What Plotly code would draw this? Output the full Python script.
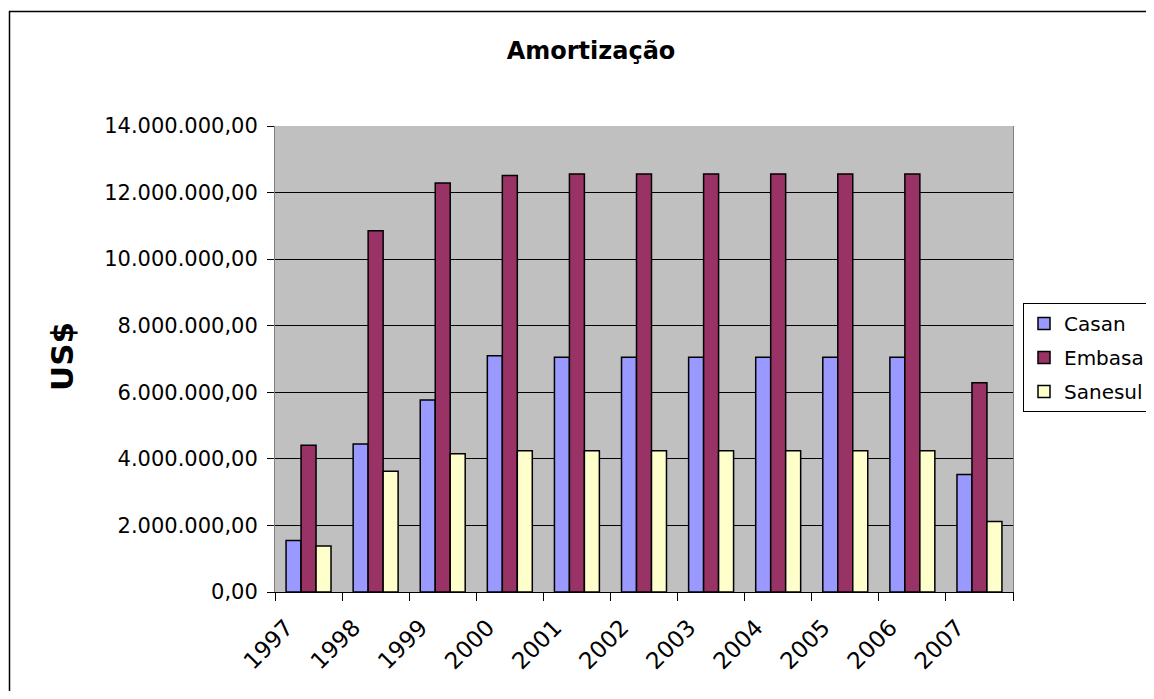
import plotly.graph_objects as go

years = ["1997", "1998", "1999", "2000", "2001", "2002", "2003", "2004", "2005", "2006", "2007"]
casan = [1.55e6, 4.45e6, 5.77e6, 7.10e6, 7.05e6, 7.05e6, 7.05e6, 7.05e6, 7.05e6, 7.05e6, 3.53e6]
embasa = [4.41e6, 10.85e6, 12.29e6, 12.51e6, 12.56e6, 12.56e6, 12.56e6, 12.56e6, 12.56e6, 12.56e6, 6.29e6]
sanesul = [1.38e6, 3.63e6, 4.15e6, 4.24e6, 4.24e6, 4.24e6, 4.24e6, 4.24e6, 4.24e6, 4.24e6, 2.12e6]

series = [("Casan", casan, "#9999FF"), ("Embasa", embasa, "#993366"), ("Sanesul", sanesul, "#FFFFCC")]

FONT = "DejaVu Sans, Arial, sans-serif"

# page body has an 8px margin; work in window pixels and convert
OFF = 8
W, H = 1154 - 2 * OFF, 699 - 2 * OFF
PL, PR, PT, PB = 275, 1013, 126, 592  # plot area in window px
L, R, T, B = PL - OFF, W - (PR - OFF), PT - OFF, H - (PB - OFF)
pw, ph = PR - PL, PB - PT


def px(x):
    return (x - PL) / pw


def py(y):
    return (PB - y) / ph


fig = go.Figure()
for name, vals, col in series:
    fig.add_trace(go.Bar(
        x=years, y=vals, name=name, legendgroup=name,
        marker=dict(color=col, line=dict(color="#000000", width=1.5)),
    ))

fig.update_layout(
    width=W, height=H,
    margin=dict(l=L, r=R, t=T, b=B, autoexpand=False),
    paper_bgcolor="white", plot_bgcolor="#C0C0C0",
    separators=",.",
    barmode="group", bargap=0.33, bargroupgap=0,
    font=dict(family=FONT, color="black", size=20),
    title=dict(text="<b>Amortização</b>", x=(591 - OFF) / W, xanchor="center",
               y=1 - (51 - OFF) / H, yanchor="middle", font=dict(size=24, family=FONT)),
    legend=dict(x=px(1023), y=py(303), xanchor="left", yanchor="top",
                bordercolor="black", borderwidth=1, bgcolor="white",
                font=dict(size=20, family=FONT), tracegroupgap=5,
                itemwidth=30, traceorder="grouped"),
    showlegend=True,
)

fig.update_xaxes(
    type="category", tickson="boundaries", ticks="outside", ticklen=8,
    tickcolor="#000000", tickangle=-45, tickfont=dict(size=23, family=FONT),
    ticklabelshift=-22, ticklabelstandoff=12,
    showgrid=False, showline=True, linecolor="#000000", linewidth=1,
    mirror=False,
)
fig.update_yaxes(
    range=[0, 14e6], dtick=2e6, tickformat=",.2f", ticks="outside", ticklen=7,
    tickcolor="#000000", tickfont=dict(size=21, family=FONT),
    ticklabelstandoff=5,
    showgrid=True, gridcolor="#000000", gridwidth=1,
    showline=True, linecolor="#808080", linewidth=1, mirror=True,
    zeroline=False,
)

# y axis title
fig.add_annotation(text="<b>US$</b>", textangle=-90, x=px(62), y=py(357),
                   xref="paper", yref="paper", showarrow=False,
                   font=dict(size=31, family=FONT), xanchor="center", yanchor="middle")

# outer chart border (left and top edges visible; right/bottom run off the page)
fig.add_shape(type="rect", xref="paper", yref="paper",
              x0=px(9.5), x1=px(1200), y0=py(740), y1=py(11.5),
              line=dict(color="#000000", width=1.5), fillcolor="rgba(0,0,0,0)", layer="below")

fig.write_html("out.html")
